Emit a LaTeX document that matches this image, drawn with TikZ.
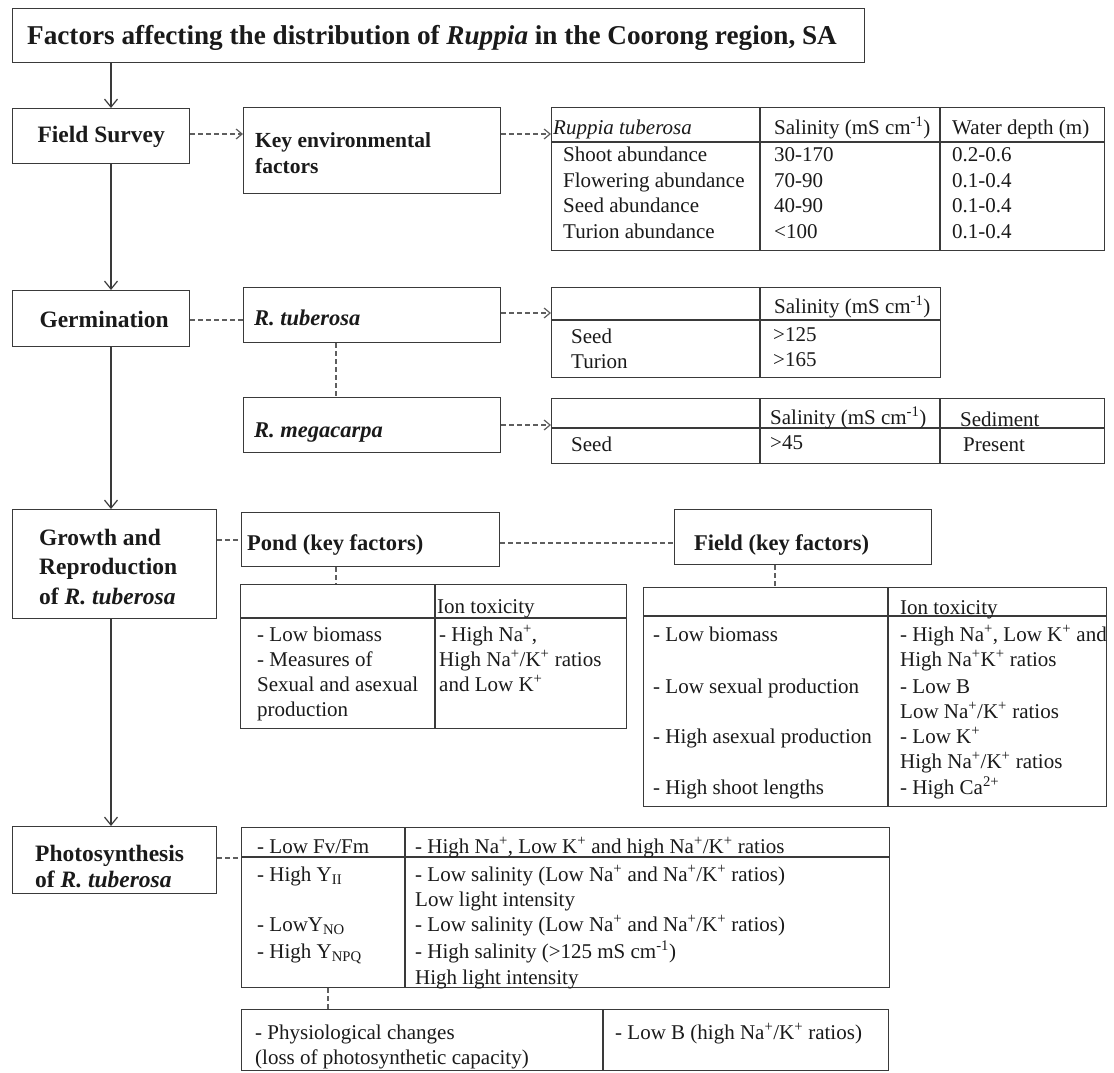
\documentclass[tikz,border=0pt]{standalone}
\usepackage{fontspec}
\setmainfont{Liberation Serif}
\usetikzlibrary{arrows.meta}
\definecolor{lc}{HTML}{3A3A3A}
\definecolor{dc}{HTML}{5E5E5E}
\definecolor{tc}{HTML}{1A1A1A}
\newcommand\xNa{Na\textsuperscript{+}}
\newcommand\xK{K\textsuperscript{+}}
\newcommand\xcmi{cm\textsuperscript{-1}}
\newcommand\putt[4]{\node[tx] (#1) at (#2,#3) {#4};}
\begin{document}
\begin{tikzpicture}[x=1pt,y=-1pt,
  font=\fontsize{21}{25}\selectfont, text=tc,
  box/.style={draw=lc, line width=1.3pt, inner sep=0pt, anchor=north west},
  tline/.style={draw=lc, line width=1.2pt},
  conn/.style={draw=lc, line width=1.2pt, -{Straight Barb[length=8pt,width=13pt]}},
  dconn/.style={draw=dc, line width=1.2pt, dash pattern=on 5pt off 3pt},
  darr/.style={dconn, -{Straight Barb[length=6pt,width=10pt]}},
  lbl/.style={font=\fontsize{22.5}{28}\selectfont\bfseries, inner sep=0pt},
  lblL/.style={font=\fontsize{23.5}{28}\selectfont\bfseries, inner sep=0pt},
  tx/.style={anchor=base west, inner sep=0pt},
]
\useasboundingbox (0,0) rectangle (1114,1072);
\fill[white] (0,0) rectangle (1114,1072);

% ---------- boxes ----------
\node[box,minimum width=852pt,minimum height=54pt] (title) at (12,8) {};
\node[box,minimum width=177pt,minimum height=55pt] (fs) at (12,108) {};
\node[box,minimum width=257pt,minimum height=86pt] (key) at (243,107) {};
\node[box,minimum width=553pt,minimum height=143pt] (t1) at (551,107) {};
\node[box,minimum width=177pt,minimum height=56pt] (ger) at (12,290) {};
\node[box,minimum width=257pt,minimum height=55pt] (rtub) at (243,287) {};
\node[box,minimum width=389pt,minimum height=90pt] (t2) at (551,287) {};
\node[box,minimum width=257pt,minimum height=55pt] (rmeg) at (243,397) {};
\node[box,minimum width=553pt,minimum height=65pt] (t3) at (551,398) {};
\node[box,minimum width=204pt,minimum height=109pt] (grow) at (12,509) {};
\node[box,minimum width=258pt,minimum height=54pt] (pond) at (241,512) {};
\node[box,minimum width=257pt,minimum height=55pt] (field) at (674,509) {};
\node[box,minimum width=386pt,minimum height=144pt] (pt) at (240,584) {};
\node[box,minimum width=463pt,minimum height=219pt] (ft) at (643,587) {};
\node[box,minimum width=204pt,minimum height=67pt] (photo) at (12,826) {};
\node[box,minimum width=648pt,minimum height=160pt] (pht) at (241,827) {};
\node[box,minimum width=647pt,minimum height=61pt] (bt) at (241,1009) {};

% ---------- table rules ----------
\draw[tline] (551,142) -- (1104,142) (760,107) -- (760,250) (940,107) -- (940,250);
\draw[tline] (551,320) -- (940,320) (760,287) -- (760,377);
\draw[tline] (551,428) -- (1104,428) (760,398) -- (760,463) (940,398) -- (940,463);
\draw[tline] (240,618) -- (626,618) (435,584) -- (435,728);
\draw[tline] (643,616) -- (1106,616) (888,587) -- (888,806);
\draw[tline] (241,857) -- (889,857) (405,827) -- (405,987);
\draw[tline] (603,1009) -- (603,1070);

% ---------- connectors ----------
\coordinate (cx) at (111,0);
\draw[conn] (title.south -| cx) -- (fs.north -| cx);
\draw[conn] (fs.south -| cx) -- (ger.north -| cx);
\draw[conn] (ger.south -| cx) -- (grow.north -| cx);
\draw[conn] (grow.south -| cx) -- (photo.north -| cx);
\coordinate (ya) at (0,134);
\draw[darr] (fs.east |- ya) -- (key.west |- ya);
\draw[darr] (key.east |- ya) -- (t1.west |- ya);
\coordinate (yb) at (0,320);
\draw[dconn] (ger.east |- yb) -- (rtub.west |- yb);
\coordinate (yc) at (0,313);
\draw[darr] (rtub.east |- yc) -- (t2.west |- yc);
\coordinate (xa) at (336,0);
\draw[dconn] (rtub.south -| xa) -- (rmeg.north -| xa);
\coordinate (yd) at (0,425);
\draw[darr] (rmeg.east |- yd) -- (t3.west |- yd);
\coordinate (ye) at (0,540);
\draw[dconn] (grow.east |- ye) -- (pond.west |- ye);
\coordinate (yf) at (0,543);
\draw[dconn] (pond.east |- yf) -- (field.west |- yf);
\draw[dconn] (pond.south -| xa) -- (pt.north -| xa);
\coordinate (xb) at (775,0);
\draw[dconn] (field.south -| xb) -- (ft.north -| xb);
\coordinate (yg) at (0,858);
\draw[dconn] (photo.east |- yg) -- (pht.west |- yg);
\coordinate (xc) at (328,0);
\draw[dconn] (pht.south -| xc) -- (bt.north -| xc);

% ---------- bold labels ----------
\node[lbl,anchor=base west] (ttl) at (27,44) {\fontsize{27.2}{32}\selectfont Factors affecting the distribution of \textit{Ruppia} in the Coorong region, SA};
\node[lblL] (fst) at ([yshift=-1pt]fs.center) {Field Survey};
\node[lbl,anchor=base west,font=\fontsize{21.5}{26}\selectfont\bfseries] (keyt1) at (255,147) {Key environmental};
\node[lbl,anchor=base west,font=\fontsize{21.5}{26}\selectfont\bfseries] (keyt2) at (255,173) {factors};
\node[lblL] (gert) at ([xshift=3pt,yshift=-1pt]ger.center) {Germination};
\node[lbl,anchor=base west] (rtubt) at (254,325) {\textit{R. tuberosa}};
\node[lbl,anchor=base west] (rmegt) at (254,437) {\textit{R. megacarpa}};
\node[lblL,anchor=base west] (gro1) at (39,545) {Growth and};
\node[lblL,anchor=base west] (gro2) at (39,574) {Reproduction};
\node[lblL,anchor=base west] (gro3) at (39,604) {of \textit{R. tuberosa}};
\node[lbl,anchor=base west] (pondt) at (247,550) {Pond (key factors)};
\node[lbl,anchor=base west] (fieldt) at (694,550) {Field (key factors)};
\node[lblL,anchor=base west] (pho1) at (35,861) {Photosynthesis};
\node[lblL,anchor=base west] (pho2) at (35,887) {of \textit{R. tuberosa}};

% ---------- table 1 ----------
\putt{a1}{553}{134}{\textit{Ruppia tuberosa}}
\putt{a2}{774}{134}{Salinity (mS \xcmi)}
\putt{a3}{952}{134}{Water depth (m)}
\putt{a4}{563}{161}{Shoot abundance}
\putt{a5}{774}{161}{30-170}
\putt{a6}{952}{161}{0.2-0.6}
\putt{a7}{563}{187}{Flowering abundance}
\putt{a8}{774}{187}{70-90}
\putt{a9}{952}{187}{0.1-0.4}
\putt{a10}{563}{212}{Seed abundance}
\putt{a11}{774}{212}{40-90}
\putt{a12}{952}{212}{0.1-0.4}
\putt{a13}{563}{238}{Turion abundance}
\putt{a14}{774}{238}{\textless100}
\putt{a15}{952}{238}{0.1-0.4}

% ---------- table 2 ----------
\putt{b1}{774}{313}{Salinity (mS \xcmi)}
\putt{b2}{571}{343}{Seed}
\putt{b3}{773}{341}{\textgreater125}
\putt{b4}{571}{368}{Turion}
\putt{b5}{773}{366}{\textgreater165}

% ---------- table 3 ----------
\putt{c1}{770}{424}{Salinity (mS \xcmi)}
\putt{c2}{960}{426}{Sediment}
\putt{c3}{571}{451}{Seed}
\putt{c4}{770}{449}{\textgreater45}
\putt{c5}{963}{451}{Present}

% ---------- pond table ----------
\putt{d1}{437}{613}{Ion toxicity}
\putt{d2}{257}{641}{- Low biomass}
\putt{d3}{257}{666}{- Measures of}
\putt{d4}{257}{691}{Sexual and asexual}
\putt{d5}{257}{716}{production}
\putt{d6}{439}{641}{- High \xNa,}
\putt{d7}{439}{666}{High \xNa/\xK{} ratios}
\putt{d8}{439}{691}{and Low \xK}

% ---------- field table ----------
\putt{e1}{900}{614}{Ion toxicity}
\putt{e2}{653}{641}{- Low biomass}
\putt{e3}{653}{693}{- Low sexual production}
\putt{e4}{653}{743}{- High asexual production}
\putt{e5}{653}{794}{- High shoot lengths}
\putt{e6}{900}{641}{- High \xNa, Low \xK{} and}
\putt{e7}{900}{666}{High \xNa\xK{} ratios}
\putt{e8}{900}{693}{- Low B}
\putt{e9}{900}{718}{Low \xNa/\xK{} ratios}
\putt{e10}{900}{743}{- Low \xK}
\putt{e11}{900}{768}{High \xNa/\xK{} ratios}
\putt{e12}{900}{794}{- High Ca\textsuperscript{2+}}

% ---------- photosynthesis table ----------
\putt{f1}{257}{853}{- Low Fv/Fm}
\putt{f2}{257}{881}{- High Y\textsubscript{II}}
\putt{f3}{257}{931}{- LowY\textsubscript{NO}}
\putt{f4}{257}{958}{- High Y\textsubscript{NPQ}}
\putt{f5}{415}{853}{- High \xNa, Low \xK{} and high \xNa/\xK{} ratios}
\putt{f6}{415}{881}{- Low salinity (Low \xNa{} and \xNa/\xK{} ratios)}
\putt{f7}{415}{906}{Low light intensity}
\putt{f8}{415}{931}{- Low salinity (Low \xNa{} and \xNa/\xK{} ratios)}
\putt{f9}{415}{958}{- High salinity (\textgreater125 mS \xcmi)}
\putt{f10}{415}{984}{High light intensity}

% ---------- bottom table ----------
\putt{g1}{255}{1039}{- Physiological changes}
\putt{g2}{255}{1064}{(loss of photosynthetic capacity)}
\putt{g3}{615}{1039}{- Low B (high \xNa/\xK{} ratios)}
\end{tikzpicture}
\end{document}
